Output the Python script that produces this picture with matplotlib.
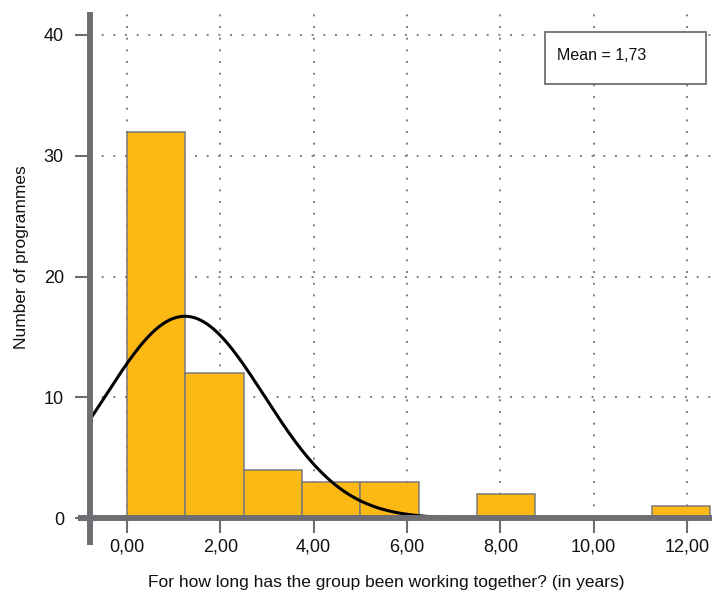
import numpy as np
import matplotlib
matplotlib.use("Agg")
import matplotlib.pyplot as plt
from matplotlib.patches import Rectangle

plt.rcParams['font.family'] = ['Liberation Sans', 'DejaVu Sans']

# ---- data ----
bin_edges = [0.0, 1.25, 2.5, 3.75, 5.0, 6.25, 7.5, 8.75, 10.0, 11.25, 12.5]
counts = [32, 12, 4, 3, 3, 0, 2, 0, 0, 1]
x_ticks = [0, 2, 4, 6, 8, 10, 12]
x_tick_labels = ["0,00", "2,00", "4,00", "6,00", "8,00", "10,00", "12,00"]
y_ticks = [0, 10, 20, 30, 40]
y_tick_labels = ["0", "10", "20", "30", "40"]
curve_mean = 1.24      # position of the normal-curve peak on the axis
curve_sd = 1.7
mean_text = "Mean = 1,73"
x_label = "For how long has the group been working together? (in years)"
y_label = "Number of programmes"

W, H = 717, 601
fig = plt.figure(figsize=(W / 100, H / 100), dpi=100)
fig.patch.set_facecolor("white")

ax_left, ax_right, ax_top, ax_bottom = 90, 712, 12, 518.3
ax = fig.add_axes([ax_left / W, 1 - ax_bottom / H,
                   (ax_right - ax_left) / W, (ax_bottom - ax_top) / H])
xmin, xmax = -0.793, 12.535
ymin, ymax = 0, 41.9
ax.set_xlim(xmin, xmax)
ax.set_ylim(ymin, ymax)

axis_col = "#6e6e72"
grid_col = "#7f7f7f"
bar_col = "#fcb813"
edge_col = "#7a7a7a"

# dotted grid
for xt in x_ticks:
    ax.plot([xt, xt], [0, ymax], color=grid_col, lw=1.4,
            linestyle=(0, (1, 5)), zorder=1)
for yt in y_ticks[1:]:
    ax.plot([xmin, xmax], [yt, yt], color=grid_col, lw=1.4,
            linestyle=(0, (1, 5)), zorder=1)

# histogram bars
edges = np.array(bin_edges)
widths = np.diff(edges)
for left, w, c in zip(edges[:-1], widths, counts):
    if c > 0:
        ax.bar(left, c, width=w, align="edge", color=bar_col,
               edgecolor=edge_col, linewidth=1.1, zorder=2)

# normal curve
n_total = sum(counts)
bw = widths[0]
xs = np.linspace(xmin, xmax, 600)
ys = n_total * bw / (curve_sd * np.sqrt(2 * np.pi)) * np.exp(-0.5 * ((xs - curve_mean) / curve_sd) ** 2)
ax.plot(xs, ys, color="black", lw=2.2, zorder=3)

# axis lines
for s in ax.spines.values():
    s.set_visible(False)
y_low = -(545 - ax_bottom) / ((ax_bottom - ax_top) / (ymax - ymin))
x_low = xmin - (ax_left - 78) / ((ax_right - ax_left) / (xmax - xmin))
ax.plot([xmin, xmin], [y_low, ymax], color=axis_col, lw=4.3,
        solid_capstyle="butt", clip_on=False, zorder=5)
ax.plot([x_low, xmax], [0, 0], color=axis_col, lw=4.3,
        solid_capstyle="butt", clip_on=False, zorder=5)

ax.set_xticks(x_ticks)
ax.set_xticklabels(x_tick_labels)
ax.set_yticks(y_ticks)
ax.set_yticklabels(y_tick_labels)
ax.tick_params(axis="both", direction="out", length=10.8, width=1.5,
               color=axis_col, labelsize=13, labelcolor="#111111")
ax.tick_params(axis="x", pad=4)
ax.tick_params(axis="y", pad=8)

fig.text(386.5 / W, 1 - 583 / H, x_label, ha="center", va="center",
         fontsize=12.5, color="#111111")
fig.text(22 / W, 1 - 257.5 / H, y_label, ha="center", va="center",
         rotation=90, fontsize=12.5, color="#111111")

# mean box
bx0, by0, bx1, by1 = 545, 32, 705.5, 84
fig.patches.append(Rectangle((bx0 / W, 1 - by1 / H), (bx1 - bx0) / W, (by1 - by0) / H,
                             transform=fig.transFigure, facecolor="white",
                             edgecolor="#707070", lw=1.3, zorder=10))
fig.text(557 / W, 1 - 55 / H, mean_text, ha="left", va="center",
         fontsize=11.5, color="#111111", zorder=11)

fig.savefig("out.png", dpi=100)
